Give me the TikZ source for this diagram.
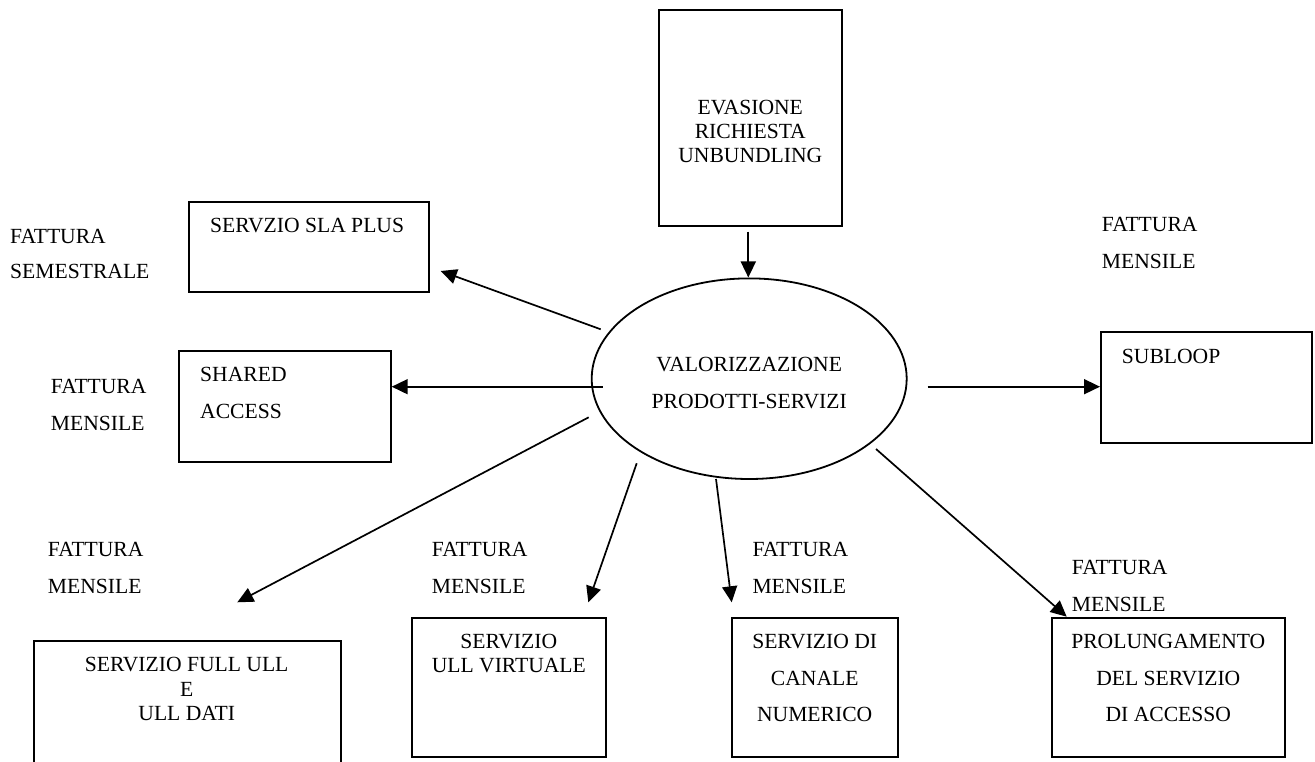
\documentclass[tikz,border=0pt]{standalone}
\usepackage{fontspec}
\setmainfont{Liberation Serif}
\usetikzlibrary{arrows.meta,shapes.geometric}
\newcommand\txt[3]{\fontsize{21.6}{#1}\selectfont\begin{tabular}[t]{@{}#2@{}}#3\end{tabular}}
\tikzset{
  boxnode/.style={draw, line width=2pt, inner sep=0pt, rectangle},
  ovalnode/.style={draw, line width=1.8pt, inner sep=0pt, ellipse},
  lbl/.style={inner sep=0pt, anchor=base west},
  clbl/.style={inner sep=0pt, anchor=base},
  link/.style={line width=1.7pt, -{Triangle[length=16pt,width=15pt]}}
}
\begin{document}
\begin{tikzpicture}[x=1pt,y=-1pt]
\useasboundingbox (0,0) rectangle (1315,762);
% boxes
\node[boxnode, minimum width=183.3pt, minimum height=216pt] (evas) at (750.6,118) {};
\node[boxnode, minimum width=240pt, minimum height=90.6pt] (sla) at (309,247) {};
\node[boxnode, minimum width=211.7pt, minimum height=111pt] (shared) at (284.8,406.2) {};
\node[boxnode, minimum width=211.6pt, minimum height=111.6pt] (sub) at (1206.5,387.5) {};
\node[boxnode, minimum width=306.7pt, minimum height=139pt] (full) at (187.3,710.5) {};
\node[boxnode, minimum width=194.3pt, minimum height=139pt] (virt) at (508.9,687.8) {};
\node[boxnode, minimum width=166.6pt, minimum height=139pt] (canale) at (815,687.8) {};
\node[boxnode, minimum width=232.7pt, minimum height=138.4pt] (prol) at (1168.7,687.5) {};
\node[ovalnode, minimum width=315pt, minimum height=200.6pt] (val) at (749.2,378.7) {};
% texts
\node[clbl] (tevas) at (750.3,114.3) {\txt{24.2}{c}{EVASIONE\\RICHIESTA\\UNBUNDLING}};
\node[clbl] (tval) at (749.2,371.7) {\txt{36.6}{c}{VALORIZZAZIONE\\PRODOTTI-SERVIZI}};
\node[lbl] (tsla) at (210,232.7) {\txt{24}{l}{SERVZIO SLA PLUS}};
\node[lbl] (tshared) at (200,381) {\txt{37.3}{l}{SHARED\\ACCESS}};
\node[lbl] (tsub) at (1121.7,363.3) {\txt{24}{l}{SUBLOOP}};
\node[clbl] (tfull) at (186.7,671.7) {\txt{24.3}{c}{SERVIZIO FULL ULL\\E\\ULL DATI}};
\node[clbl] (tvirt) at (508.8,648.3) {\txt{24.4}{c}{SERVIZIO\\ULL VIRTUALE}};
\node[clbl] (tcanale) at (814.7,648.3) {\txt{36.7}{c}{SERVIZIO DI\\CANALE\\NUMERICO}};
\node[clbl] (tprol) at (1168.3,648.3) {\txt{36.7}{c}{PROLUNGAMENTO\\DEL SERVIZIO\\DI ACCESSO}};
% invoice labels
\node[lbl] (f1) at (10,243.3) {\txt{35}{l}{FATTURA\\SEMESTRALE}};
\node[lbl] (f2) at (50.7,393.3) {\txt{36.7}{l}{FATTURA\\MENSILE}};
\node[lbl] (f3) at (1101.7,231.7) {\txt{36.6}{l}{FATTURA\\MENSILE}};
\node[lbl] (f4) at (47.7,556) {\txt{37}{l}{FATTURA\\MENSILE}};
\node[lbl] (f5) at (431.7,556) {\txt{37}{l}{FATTURA\\MENSILE}};
\node[lbl] (f6) at (752.3,556) {\txt{37}{l}{FATTURA\\MENSILE}};
\node[lbl] (f7) at (1071.7,574.3) {\txt{37.4}{l}{FATTURA\\MENSILE}};
% connector end points
\coordinate (aevs) at (748.3,231.7);  \coordinate (aeve) at (748.3,277.5);
\coordinate (aslas) at (600.7,329.3); \coordinate (aslae) at (440.7,271);
\coordinate (ashs) at (602.7,386.7);  \coordinate (ashe) at (391.7,386.7);
\coordinate (asubs) at (927.7,386.7); \coordinate (asube) at (1100,386.7);
\coordinate (afus) at (588.7,417.3);  \coordinate (afue) at (237.3,602.3);
\coordinate (avis) at (636.7,463.3);  \coordinate (avie) at (588.3,602.3);
\coordinate (acas) at (716,479);      \coordinate (acae) at (731.7,602.3);
\coordinate (aprs) at (876,449);      \coordinate (apre) at (1066.7,616.7);
% connectors
\draw[link] (aevs) -- (aeve);
\draw[link] (aslas) -- (aslae);
\draw[link] (ashs) -- (ashe);
\draw[link] (asubs) -- (asube);
\draw[link] (afus) -- (afue);
\draw[link] (avis) -- (avie);
\draw[link] (acas) -- (acae);
\draw[link] (aprs) -- (apre);
\end{tikzpicture}
\end{document}
